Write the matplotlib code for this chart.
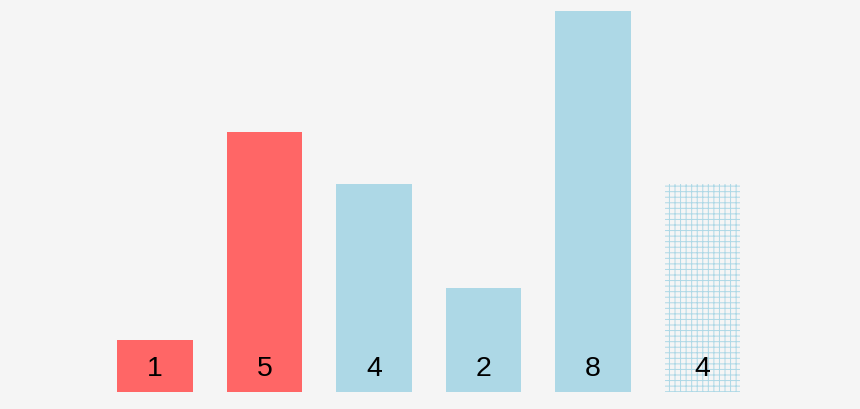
import matplotlib
matplotlib.use("Agg")
import matplotlib.pyplot as plt

categories = ["A", "B", "C", "D", "E", "F"]
values = [1, 5, 4, 2, 8, 4]
colors = ["#FF6666", "#FF6666", "#ADD8E6", "#ADD8E6", "#ADD8E6", "#ADD8E6"]
hatched = [False, False, False, False, False, True]

plt.rcParams['hatch.linewidth'] = 0.7
bg = "#F5F5F5"
fig = plt.figure(figsize=(8.6, 4.09), dpi=100, facecolor=bg)
ax = fig.add_axes([0, 17/409, 1, 381/409])
ax.set_facecolor(bg)

for i, (v, c, h) in enumerate(zip(values, colors, hatched)):
    if h:
        ax.bar(i, v, width=0.694, facecolor="none", edgecolor=c, hatch="+++", linewidth=0)
    else:
        ax.bar(i, v, width=0.694, color=c, linewidth=0)
    ax.text(i, 15.5/52, str(v), ha="center", va="baseline", fontsize=20.5,
            family="Liberation Sans", color="black")

ax.set_xlim(-155/109.5, (860-155)/109.5)
ax.set_ylim(0, 381/52)
ax.axis("off")
fig.savefig("out.png", dpi=100, facecolor=bg)
